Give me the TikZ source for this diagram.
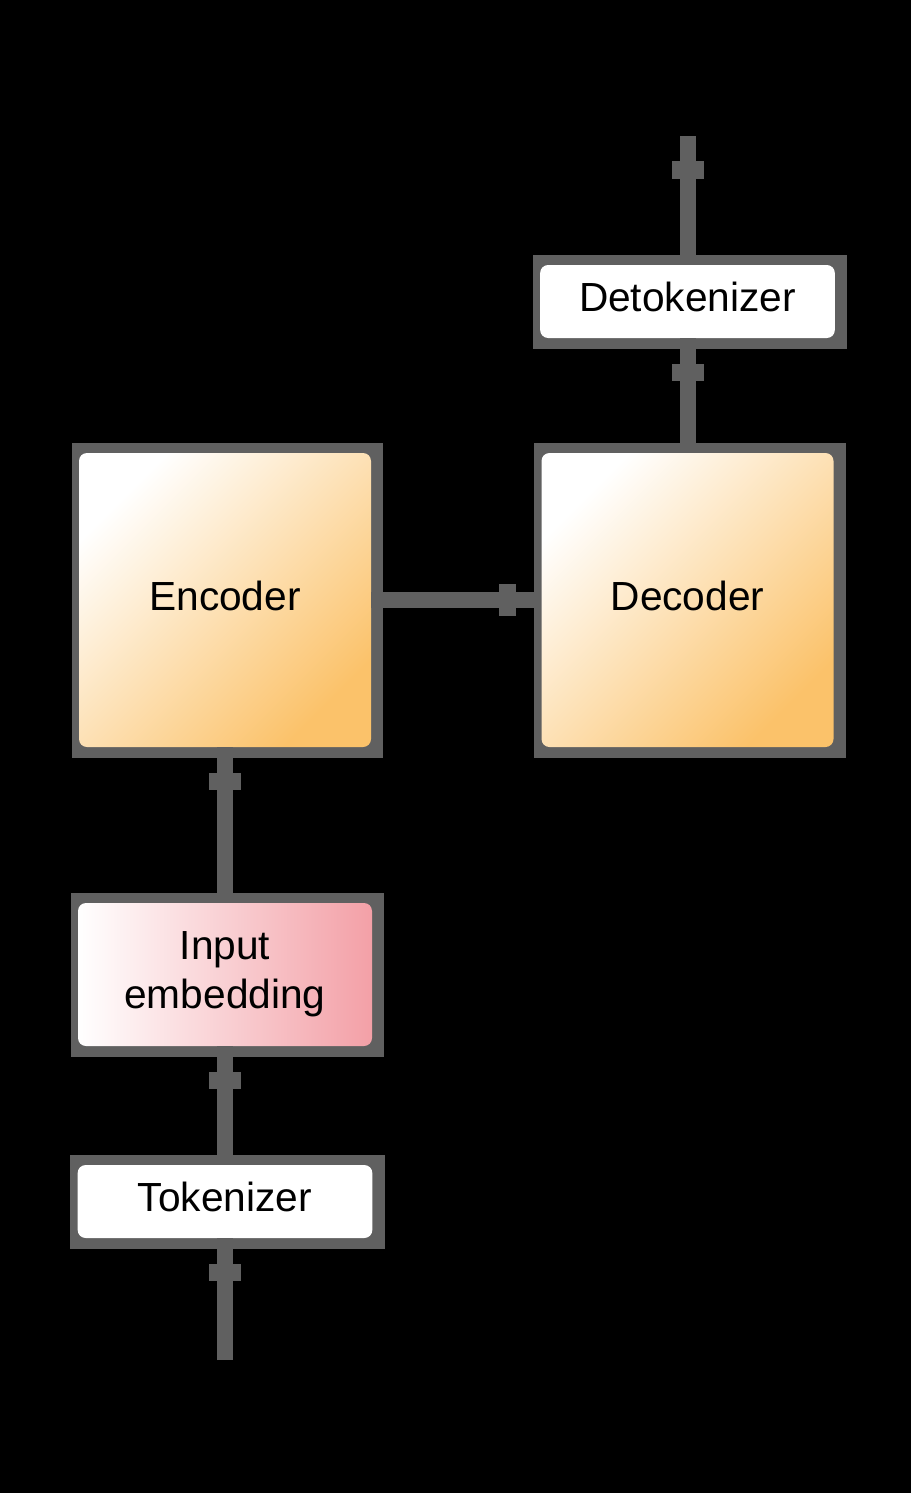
\documentclass[tikz,border=0pt]{standalone}
\usepackage{fontspec}
\setmainfont{Liberation Sans}
\usetikzlibrary{arrows.meta, backgrounds}

\definecolor{framegray}{RGB}{96,96,96}
\definecolor{peach}{RGB}{253,229,196}
\definecolor{apricot}{RGB}{251,194,106}
\definecolor{blush}{RGB}{243,160,167}

\tikzset{
  block/.style={rectangle, rounded corners=6pt, inner sep=0pt, align=center,
    font=\fontsize{30.5}{36.75}\selectfont},
  oneline/.style={text height=22pt, text depth=7pt},
  whitebox/.style={block, oneline, fill=white, minimum width=221pt, minimum height=54.75pt},
  coderbox/.style={block, oneline, minimum width=219pt, minimum height=220.5pt,
    top color=white, middle color=peach, bottom color=apricot, shading angle=45},
  embedbox/.style={block, minimum width=220.5pt, minimum height=107.25pt,
    left color=white, right color=blush},
  flow/.style={draw=framegray, line width=12pt,
    -{Rectangle[length=13pt, width=24pt, line width=0pt, sep=0pt]
      Rectangle[length=19pt, width=12pt, line width=0pt, sep=0pt]}}
}

\begin{document}
\begin{tikzpicture}[x=0.75pt, y=-0.75pt]

  % Blocks
  \node[coderbox] (enc) at (225,600) {Encoder};
  \node[coderbox] (dec) at (687.5,600) {Decoder};
  \node[whitebox] (detok) at (687.5,301.5) {Detokenizer};
  \node[embedbox] (embed) at (225,974.5) {Input\\embedding};
  \node[whitebox] (tok) at (225,1201.5) {Tokenizer};

  % Free ends of the input and output
  \coordinate (in) at (225,1360);
  \coordinate (out) at (687.5,136);

  % Background and gray frames
  \begin{scope}[on background layer]
    \fill[black] (0,0) rectangle (911,1493);
    \foreach \n in {enc, dec, detok, embed, tok} {
      \fill[framegray] ([shift={(-7,-10)}]\n.north west) rectangle ([shift={(12,11)}]\n.south east);
    }
  \end{scope}

  % Connectors
  \draw[flow] (in) -- (tok);
  \draw[flow] (tok) -- (embed);
  \draw[flow] (embed) -- (enc);
  \draw[flow] (enc) -- (dec);
  \draw[flow] (dec) -- (detok);
  \draw[flow] (detok) -- (out);

\end{tikzpicture}
\end{document}
